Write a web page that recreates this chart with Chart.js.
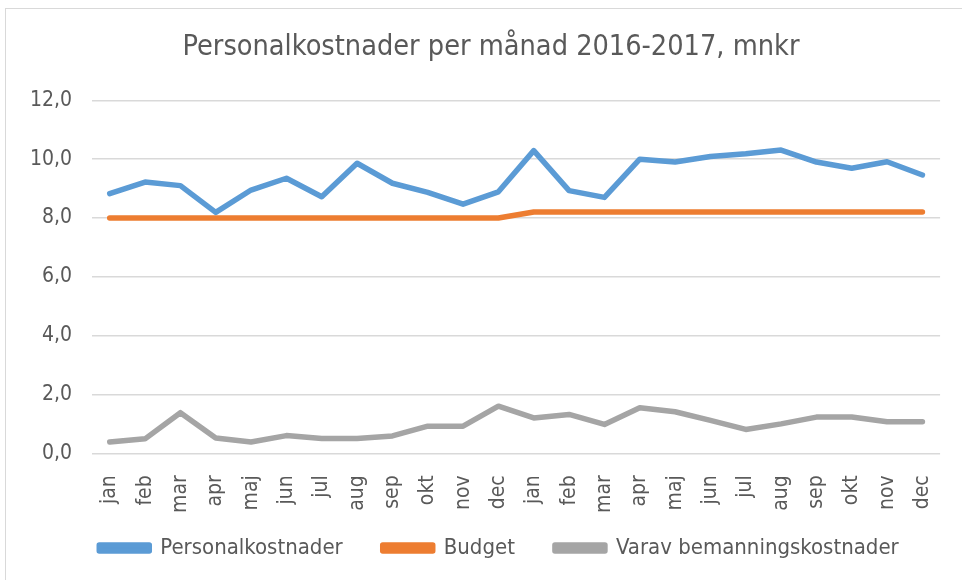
<!DOCTYPE html>
<html>
<head>
<meta charset="utf-8">
<script src="https://cdn.jsdelivr.net/npm/chart.js@4/dist/chart.umd.min.js"></script>
<style>
  html, body { margin: 0; padding: 0; background: #fff; }
  #wrap { position: relative; width: 962px; height: 580px; }
  #frame { position: absolute; left: 5px; top: 8px; width: 970px; height: 600px; border: 1px solid #d9d9d9; box-sizing: border-box; }
  canvas { position: absolute; left: 0; top: 0; }
</style>
</head>
<body>
<div id="wrap">
  <div id="frame"></div>
  <canvas id="chart" width="962" height="580"></canvas>
</div>
<script>
const months = ['jan', 'feb', 'mar', 'apr', 'maj', 'jun', 'jul', 'aug', 'sep', 'okt', 'nov', 'dec',
                'jan', 'feb', 'mar', 'apr', 'maj', 'jun', 'jul', 'aug', 'sep', 'okt', 'nov', 'dec']

const personalkostnader = [8.83, 9.22, 9.10, 8.19, 8.95, 9.35, 8.72, 9.86, 9.18, 8.87, 8.47, 8.89,
                           10.29, 8.93, 8.70, 10.0, 9.9, 10.09, 10.18, 10.31, 9.9, 9.69, 9.91, 9.46]
const budget = [8.0, 8.0, 8.0, 8.0, 8.0, 8.0, 8.0, 8.0, 8.0, 8.0, 8.0, 8.0,
                8.2, 8.2, 8.2, 8.2, 8.2, 8.2, 8.2, 8.2, 8.2, 8.2, 8.2, 8.2]
const bemanning = [0.38, 0.49, 1.38, 0.52, 0.38, 0.6, 0.5, 0.5, 0.59, 0.92, 0.92, 1.6,
                   1.2, 1.32, 0.98, 1.55, 1.41, 1.12, 0.81, 1.0, 1.23, 1.23, 1.07, 1.07]

const fontFamily = '"Liberation Sans Narrow", "DejaVu Sans Condensed", "Liberation Sans", sans-serif'
const textColor = '#595959'

const line = (label, data, color) => ({
    label: label,
    data: data,
    borderColor: color,
    backgroundColor: color,
    borderWidth: 5.5,
    pointRadius: 0,
    tension: 0,
    fill: false,
    borderCapStyle: 'round',
    borderJoinStyle: 'round'
})

// legend padding is wide for the gaps between items, so pull it up a bit
// and nudge title/legend right like the excel original
const nudge = {
    id: 'nudge',
    afterLayout(chart) {
        chart.legend.top -= 30
        chart.legend.bottom -= 30
        chart.legend.left += 22
        chart.legend.right += 22
        chart.titleBlock.left += 14
        chart.titleBlock.right += 14
    }
}

const ctx = document.getElementById('chart').getContext('2d')
new Chart(ctx, {
    type: 'line',
    data: {
        labels: months,
        datasets: [
            line('Personalkostnader', personalkostnader, '#5b9bd5'),
            line('Budget', budget, '#ed7d31'),
            line('Varav bemanningskostnader', bemanning, '#a5a5a5')
        ]
    },
    plugins: [nudge],
    options: {
        responsive: false,
        animation: false,
        layout: {
            padding: { left: 10, right: 18, top: 30, bottom: -19 }
        },
        plugins: {
            title: {
                display: true,
                text: 'Personalkostnader per månad 2016-2017, mnkr',
                color: textColor,
                font: { family: fontFamily, size: 28.6, weight: 'normal' },
                padding: { top: 0, bottom: 36 }
            },
            legend: {
                position: 'bottom',
                labels: {
                    color: textColor,
                    font: { family: fontFamily, size: 22 },
                    boxWidth: 50,
                    boxHeight: 6,
                    padding: 40
                }
            },
            tooltip: { enabled: false }
        },
        scales: {
            x: {
                offset: true,
                grid: { display: false },
                border: { display: false },
                ticks: {
                    color: textColor,
                    font: { family: fontFamily, size: 21 },
                    minRotation: 90,
                    maxRotation: 90,
                    autoSkip: false,
                    padding: 14
                }
            },
            y: {
                min: 0,
                max: 12,
                grid: { color: '#d9d9d9', lineWidth: 1.5, drawTicks: false },
                border: { display: false },
                ticks: {
                    stepSize: 2,
                    color: textColor,
                    font: { family: fontFamily, size: 21 },
                    padding: 20,
                    callback: (v) => v.toFixed(1).replace('.', ',')
                }
            }
        }
    }
})
</script>
</body>
</html>
